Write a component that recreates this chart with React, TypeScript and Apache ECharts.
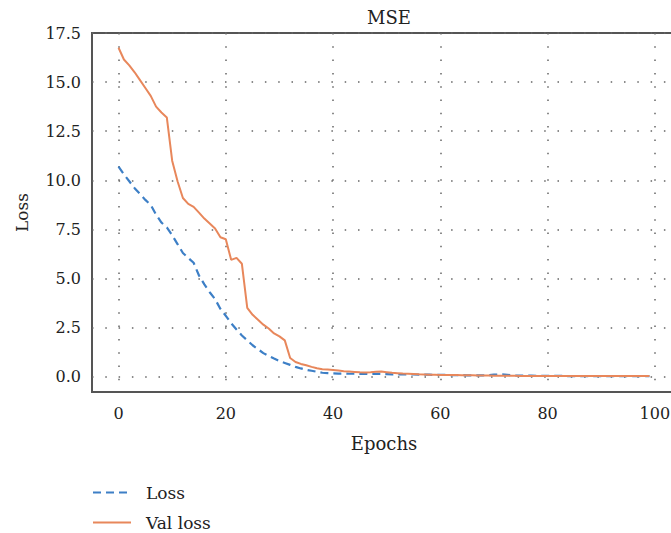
import React, { useEffect, useRef } from "react";
import * as echarts from "echarts";

const epochs: number[] = Array.from({ length: 100 }, (_, i) => i);

const lossValues: number[] = [
  10.7, 10.3, 9.95, 9.6, 9.3, 9.0, 8.75, 8.25, 7.85, 7.6,
  7.2, 6.75, 6.3, 6.05, 5.8, 5.15, 4.7, 4.3, 3.95, 3.45,
  3.1, 2.72, 2.4, 2.1, 1.85, 1.6, 1.4, 1.2, 1.05, 0.92,
  0.8, 0.7, 0.6, 0.5, 0.42, 0.35, 0.3, 0.25, 0.2, 0.18,
  0.17, 0.16, 0.16, 0.15, 0.15, 0.14, 0.14, 0.13, 0.15, 0.14,
  0.13, 0.12, 0.12, 0.11, 0.11, 0.11, 0.1, 0.1, 0.1, 0.09,
  0.09, 0.09, 0.08, 0.08, 0.08, 0.07, 0.07, 0.07, 0.07, 0.08,
  0.1, 0.12, 0.11, 0.08, 0.06, 0.05, 0.05, 0.05, 0.04, 0.04,
  0.04, 0.04, 0.04, 0.04, 0.03, 0.03, 0.03, 0.03, 0.03, 0.03,
  0.03, 0.03, 0.03, 0.03, 0.03, 0.03, 0.03, 0.03, 0.03, 0.03,
];

const valLossValues: number[] = [
  16.75, 16.15, 15.85, 15.5, 15.1, 14.7, 14.3, 13.75, 13.45, 13.2,
  11.0, 9.95, 9.1, 8.8, 8.65, 8.35, 8.05, 7.8, 7.55, 7.1,
  7.0, 5.95, 6.05, 5.75, 3.5, 3.15, 2.9, 2.65, 2.45, 2.2,
  2.05, 1.85, 0.95, 0.75, 0.65, 0.58, 0.5, 0.43, 0.38, 0.36,
  0.34, 0.31, 0.28, 0.26, 0.24, 0.22, 0.21, 0.22, 0.25, 0.26,
  0.23, 0.2, 0.18, 0.16, 0.15, 0.14, 0.12, 0.11, 0.1, 0.1,
  0.09, 0.08, 0.08, 0.08, 0.07, 0.07, 0.07, 0.06, 0.06, 0.06,
  0.05, 0.05, 0.05, 0.05, 0.05, 0.04, 0.04, 0.04, 0.04, 0.04,
  0.03, 0.03, 0.03, 0.03, 0.03, 0.03, 0.03, 0.03, 0.03, 0.03,
  0.04, 0.04, 0.04, 0.04, 0.04, 0.04, 0.04, 0.04, 0.04, 0.04,
];

const xTicks: number[] = [0, 20, 40, 60, 80, 100];
const yTicks: number[] = [0, 2.5, 5, 7.5, 10, 12.5, 15, 17.5];
const seriesNames: string[] = ["Loss", "Val loss"];

const FONT = "DejaVu Serif";
const TEXT = "#222";
const BLUE = "#3d7fc6";
const ORANGE = "#e8875b";

export default function App() {
  const ref = useRef<HTMLDivElement>(null);
  useEffect(() => {
    if (!ref.current) return;
    const chart = echarts.init(ref.current, undefined, { renderer: "svg" });
    const gridLine = { color: "#666", width: 1.5, type: [1.5, 11.8] as number[] };
    const legendBase = {
      left: 92,
      padding: 0,
      itemWidth: 38,
      itemHeight: 14,
      itemStyle: { opacity: 0 },
      textStyle: { fontFamily: FONT, fontSize: 17, color: TEXT, padding: [0, 0, 0, 10] },
    };
    chart.setOption({
      animation: false,
      backgroundColor: "#fff",
      title: {
        text: "MSE",
        left: 384,
        textAlign: "center",
        top: 3,
        textStyle: { fontFamily: FONT, fontSize: 18, fontWeight: "normal", color: TEXT },
      },
      grid: {
        left: 92,
        top: 33,
        right: -5,
        bottom: 141,
        containLabel: false,
        outerBoundsMode: "none",
        show: true,
        borderColor: "#555",
        borderWidth: 2,
      },
      legend: [
        { ...legendBase, data: [seriesNames[0]], top: 484 },
        { ...legendBase, data: [seriesNames[1]], top: 514 },
      ],
      xAxis: {
        type: "value",
        min: -4.95,
        max: 103.95,
        name: "Epochs",
        nameLocation: "middle",
        nameGap: 42,
        nameTextStyle: { fontFamily: FONT, fontSize: 18, color: TEXT },
        axisLine: { show: false },
        axisTick: { show: false, customValues: xTicks },
        axisLabel: {
          customValues: xTicks,
          margin: 13,
          fontFamily: FONT,
          fontSize: 16,
          color: TEXT,
        },
        splitLine: { show: true, lineStyle: gridLine },
      },
      yAxis: {
        type: "value",
        min: -0.78,
        max: 17.5,
        name: "Loss",
        nameLocation: "middle",
        nameGap: 62,
        nameRotate: 90,
        nameTextStyle: { fontFamily: FONT, fontSize: 17, color: TEXT },
        axisLine: { show: false },
        axisTick: { show: false, customValues: yTicks },
        axisLabel: {
          customValues: yTicks,
          margin: 11,
          fontFamily: FONT,
          fontSize: 16,
          color: TEXT,
          formatter: (v: number) => v.toFixed(1),
        },
        splitLine: { show: true, lineStyle: gridLine },
      },
      series: [
        {
          name: seriesNames[0],
          type: "line",
          data: epochs.map((e, i) => [e, lossValues[i]]),
          symbol: "none",
          lineStyle: { color: BLUE, width: 2.2, type: [8, 5] },
          itemStyle: { color: BLUE },
          z: 3,
        },
        {
          name: seriesNames[1],
          type: "line",
          data: epochs.map((e, i) => [e, valLossValues[i]]),
          symbol: "none",
          lineStyle: { color: ORANGE, width: 2 },
          itemStyle: { color: ORANGE },
          z: 4,
        },
      ],
    });
    return () => chart.dispose();
  }, []);
  return (
    <div
      ref={ref}
      style={{ position: "fixed", left: 0, top: 0, width: 671, height: 533 }}
    />
  );
}
